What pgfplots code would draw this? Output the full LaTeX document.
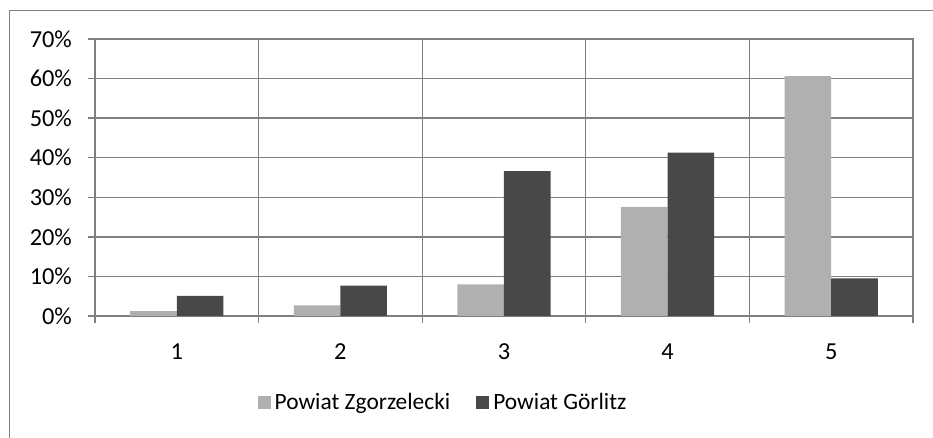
\documentclass[border=0pt]{standalone}
\usepackage{fontspec}
\setmainfont{Carlito}
\usepackage{pgfplots}
\pgfplotsset{compat=1.18}

\definecolor{zgorz}{HTML}{B0B0B0}
\definecolor{gorl}{HTML}{484848}
\definecolor{gridc}{HTML}{808080}

\begin{document}
\begin{tikzpicture}[font=\fontsize{12}{14}\selectfont]
\useasboundingbox (0,0) rectangle (466.5pt,219pt);
% chart frame (right and bottom edges fall outside the picture)
\draw[gridc, line width=0.6pt] (4.75pt,-5pt) -- (4.75pt,213.75pt) -- (475pt,213.75pt);
\begin{axis}[
    at={(47.5pt,61pt)}, anchor=south west,
    scale only axis,
    width=409pt, height=138.5pt,
    ybar=0pt,
    bar width=23.3pt,
    xmin=0.5, xmax=5.5,
    ymin=0, ymax=70,
    xtick={1,2,3,4,5},
    minor xtick={0.5,1.5,2.5,3.5,4.5,5.5},
    major x tick style={draw=none},
    ytick={0,10,20,30,40,50,60,70},
    yticklabel={\pgfmathprintnumber{\tick}\%},
    /pgf/number format/assume math mode=true,
    tick label style={font=\fontsize{12.2}{14}\selectfont},
    tick pos=left,
    tick align=outside,
    major tick length=3.5pt,
    minor tick length=3.5pt,
    ymajorgrids=true,
    xminorgrids=true,
    grid style={gridc, line width=0.65pt},
    minor grid style={gridc, line width=0.65pt},
    axis line style={gridc, line width=0.65pt},
    every tick/.style={gridc, line width=0.65pt},
    yticklabel style={xshift=-4.5pt},
    xticklabel style={yshift=-7pt},
    legend columns=2,
    legend style={at={(0.4267,-0.314)}, anchor=center, draw=none,
                  fill=none, font=\fontsize{11.7}{14}\selectfont,
                  /tikz/every even column/.append style={column sep=11pt}},
    legend image code/.code={\fill[#1] (-1.5pt,-3.25pt) rectangle (5pt,3.25pt);},
]

% Powiat Zgorzelecki
\addplot[fill=zgorz, draw=none]
    coordinates {(1,1.2) (2,2.7) (3,8.0) (4,27.6) (5,60.6)};

% Powiat Goerlitz
\addplot[fill=gorl, draw=none]
    coordinates {(1,5.1) (2,7.7) (3,36.6) (4,41.3) (5,9.5)};

\legend{Powiat Zgorzelecki, Powiat Görlitz}
\end{axis}
\end{tikzpicture}
\end{document}
